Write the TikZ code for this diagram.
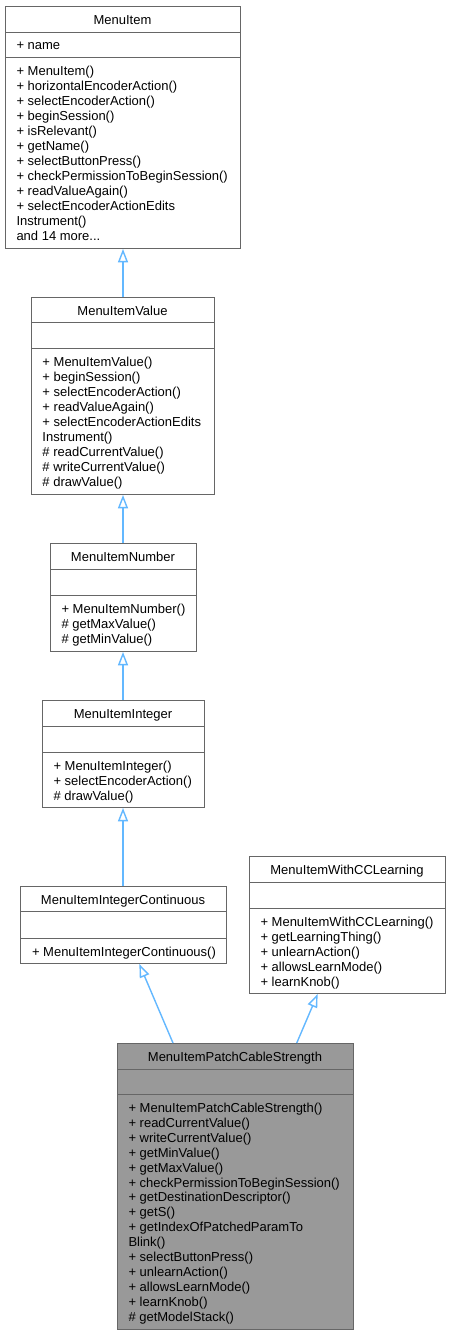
\documentclass[tikz,border=0pt]{standalone}
\usepackage{fontspec}
\setmainfont{Liberation Sans}
\usetikzlibrary{arrows.meta}

\definecolor{boxgray}{HTML}{666666}
\definecolor{edgeblue}{HTML}{63B8FF}
\definecolor{curfill}{HTML}{999999}

\tikzset{every picture/.style={line width=0.75pt}}
\tikzset{
  classbox/.style 2 args={draw=boxgray, fill=white, anchor=north west, inner sep=0pt, minimum width=#1*0.75pt, minimum height=#2*0.75pt},
  sepline/.style={draw=boxgray},
  classtitle/.style={anchor=base, inner sep=0pt, font=\fontsize{9.75}{11.2}\selectfont},
  member/.style={anchor=base west, inner sep=0pt, font=\fontsize{9.75}{11.2}\selectfont},
  inherit/.style={draw=edgeblue, line width=1.05pt, -{Triangle[open, length=10pt, width=7.5pt]}},
}

\begin{document}
\begin{tikzpicture}[x=0.75pt,y=0.75pt,yscale=-1,xscale=1]
    \fill[white] (0,0) rectangle (450,1336);
    \useasboundingbox (0,0) rectangle (450,1336);
    %Shape: Rectangle MenuItem
    \node[classbox={235}{242}] (menuitem) at (5,6) {};
    \draw[sepline] (5,32) -- (240,32);
    \draw[sepline] (5,57) -- (240,57);
    % Text Node
    \node[classtitle] (menuitem-title) at (122.5,24.5) {MenuItem};
    \node[member] (menuitem-attr) at (16,49) {+ name};
    \foreach \m [count=\i from 0] in {+ MenuItem(), + horizontalEncoderAction(), + selectEncoderAction(), + beginSession(), + isRelevant(), + getName(), + selectButtonPress(), + checkPermissionToBeginSession(), + readValueAgain(), + selectEncoderActionEdits, Instrument()}
      \node[member] (menuitem-op\i) at (16,75.8+15*\i) {\m};
    \node[member] (menuitem-more) at (16,240.8) {and 14 more...};

    %Shape: Rectangle MenuItemValue
    \node[classbox={183}{197}] (menuvalue) at (31,297) {};
    \draw[sepline] (31,322) -- (214,322);
    \draw[sepline] (31,348) -- (214,348);
    % Text Node
    \node[classtitle] (menuvalue-title) at (122.5,315.5) {MenuItemValue};
    \foreach \m [count=\i from 0] in {+ MenuItemValue(), + beginSession(), + selectEncoderAction(), + readValueAgain(), + selectEncoderActionEdits, Instrument(), \# readCurrentValue(), \# writeCurrentValue(), \# drawValue()}
      \node[member] (menuvalue-op\i) at (42,366.5+14.95*\i) {\m};

    %Shape: Rectangle MenuItemNumber
    \node[classbox={146}{108}] (menunumber) at (50,543) {};
    \draw[sepline] (50,569) -- (196,569);
    \draw[sepline] (50,595) -- (196,595);
    % Text Node
    \node[classtitle] (menunumber-title) at (123,561.5) {MenuItemNumber};
    \foreach \m [count=\i from 0] in {+ MenuItemNumber(), \# getMaxValue(), \# getMinValue()}
      \node[member] (menunumber-op\i) at (61,613.5+14.95*\i) {\m};

    %Shape: Rectangle MenuItemInteger
    \node[classbox={162}{107}] (menuinteger) at (42,700) {};
    \draw[sepline] (42,726) -- (204,726);
    \draw[sepline] (42,752) -- (204,752);
    % Text Node
    \node[classtitle] (menuinteger-title) at (123,718.5) {MenuItemInteger};
    \foreach \m [count=\i from 0] in {+ MenuItemInteger(), + selectEncoderAction(), \# drawValue()}
      \node[member] (menuinteger-op\i) at (53,770.5+14.95*\i) {\m};

    %Shape: Rectangle MenuItemIntegerContinuous
    \node[classbox={206}{77}] (menucont) at (20,886) {};
    \draw[sepline] (20,911) -- (226,911);
    \draw[sepline] (20,938) -- (226,938);
    % Text Node
    \node[classtitle] (menucont-title) at (123,904.5) {MenuItemIntegerContinuous};
    \node[member] (menucont-op0) at (31.5,956.5) {+ MenuItemIntegerContinuous()};

    %Shape: Rectangle MenuItemWithCCLearning
    \node[classbox={196}{137}] (cclearning) at (249,856) {};
    \draw[sepline] (249,882) -- (445,882);
    \draw[sepline] (249,908) -- (445,908);
    % Text Node
    \node[classtitle] (cclearning-title) at (347,874.5) {MenuItemWithCCLearning};
    \foreach \m [count=\i from 0] in {+ MenuItemWithCCLearning(), + getLearningThing(), + unlearnAction(), + allowsLearnMode(), + learnKnob()}
      \node[member] (cclearning-op\i) at (260,926.5+15*\i) {\m};

    %Shape: Rectangle MenuItemPatchCableStrength
    \node[classbox={236}{286}, fill=curfill] (patchcable) at (117,1043) {};
    \draw[sepline] (117,1069) -- (353,1069);
    \draw[sepline] (117,1094) -- (353,1094);
    % Text Node
    \node[classtitle] (patchcable-title) at (235,1061.5) {MenuItemPatchCableStrength};
    \foreach \m [count=\i from 0] in {+ MenuItemPatchCableStrength(), + readCurrentValue(), + writeCurrentValue(), + getMinValue(), + getMaxValue(), + checkPermissionToBeginSession(), + getDestinationDescriptor(), + getS(), + getIndexOfPatchedParamTo, Blink(), + selectButtonPress(), + unlearnAction(), + allowsLearnMode(), + learnKnob(), \# getModelStack()}
      \node[member] (patchcable-op\i) at (128,1112.5+14.9*\i) {\m};

    %Straight Lines
    \draw[inherit] (menuvalue.north) -- (menuitem.south);
    \draw[inherit] (menunumber.north -| menuitem.south) -- (menuvalue.south);
    \draw[inherit] (menuinteger.north -| menuitem.south) -- (menunumber.south -| menuitem.south);
    \draw[inherit] (menucont.north -| menuitem.south) -- (menuinteger.south -| menuitem.south);
    \draw[inherit] ([xshift=42pt]patchcable.north west) -- ([xshift=89.5pt]menucont.south west);
    \draw[inherit] ([xshift=134.8pt]patchcable.north west) -- ([xshift=51.5pt]cclearning.south west);
\end{tikzpicture}
\end{document}
